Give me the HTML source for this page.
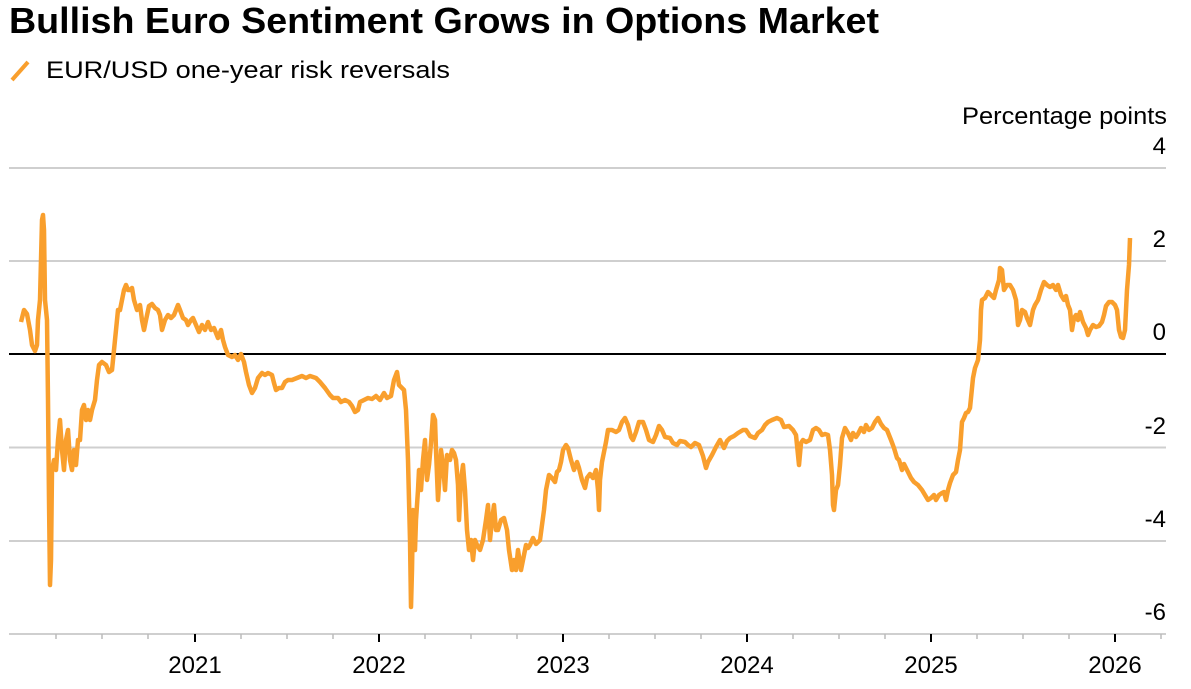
<!DOCTYPE html>
<html><head><meta charset="utf-8"><style>
body{margin:0;background:#fff;width:1191px;height:684px;overflow:hidden;font-family:"Liberation Sans",Arial,sans-serif}
</style></head><body>
<svg width="1191" height="684" xmlns="http://www.w3.org/2000/svg" font-family="Liberation Sans, Arial, sans-serif">
<text x="9" y="33" font-size="36" font-weight="bold" fill="#000" textLength="870" lengthAdjust="spacingAndGlyphs">Bullish Euro Sentiment Grows in Options Market</text>
<line x1="12" y1="80" x2="28" y2="62" stroke="#f99f2d" stroke-width="4"/>
<text x="46" y="78" font-size="24" fill="#000" textLength="404" lengthAdjust="spacingAndGlyphs">EUR/USD one-year risk reversals</text>
<text x="1167" y="124" font-size="24" text-anchor="end" textLength="205" lengthAdjust="spacingAndGlyphs">Percentage points</text>
<g stroke="#cfcfcf" stroke-width="2">
<line x1="9" y1="168" x2="1166" y2="168"/><line x1="9" y1="261" x2="1166" y2="261"/>
<line x1="9" y1="447.5" x2="1166" y2="447.5"/><line x1="9" y1="541" x2="1166" y2="541"/>
<line x1="9" y1="634" x2="1166" y2="634"/>
</g>
<line x1="9" y1="354" x2="1166" y2="354" stroke="#000" stroke-width="2"/>
<g font-size="24" text-anchor="end" fill="#000">
<text x="1166" y="154">4</text><text x="1166" y="247">2</text><text x="1166" y="340">0</text>
<text x="1166" y="434">-2</text><text x="1166" y="527">-4</text><text x="1166" y="620">-6</text>
</g>
<g stroke="#bbb" stroke-width="1.5">
<line x1="56" y1="634" x2="56" y2="639"/><line x1="102" y1="634" x2="102" y2="639"/><line x1="148" y1="634" x2="148" y2="639"/>
<line x1="241" y1="634" x2="241" y2="639"/><line x1="287" y1="634" x2="287" y2="639"/><line x1="333" y1="634" x2="333" y2="639"/>
<line x1="425" y1="634" x2="425" y2="639"/><line x1="471" y1="634" x2="471" y2="639"/><line x1="517" y1="634" x2="517" y2="639"/>
<line x1="609" y1="634" x2="609" y2="639"/><line x1="655" y1="634" x2="655" y2="639"/><line x1="701" y1="634" x2="701" y2="639"/>
<line x1="793" y1="634" x2="793" y2="639"/><line x1="839" y1="634" x2="839" y2="639"/><line x1="885" y1="634" x2="885" y2="639"/>
<line x1="977" y1="634" x2="977" y2="639"/><line x1="1023" y1="634" x2="1023" y2="639"/><line x1="1069" y1="634" x2="1069" y2="639"/>
<line x1="1161" y1="634" x2="1161" y2="639"/>
</g>
<g stroke="#000" stroke-width="2">
<line x1="195" y1="634" x2="195" y2="642"/><line x1="379" y1="634" x2="379" y2="642"/><line x1="563" y1="634" x2="563" y2="642"/>
<line x1="747" y1="634" x2="747" y2="642"/><line x1="931" y1="634" x2="931" y2="642"/><line x1="1115" y1="634" x2="1115" y2="642"/>
</g>
<g font-size="24" text-anchor="middle">
<text x="195" y="673">2021</text><text x="379" y="673">2022</text><text x="563" y="673">2023</text>
<text x="747" y="673">2024</text><text x="931" y="673">2025</text><text x="1115" y="673">2026</text>
</g>
<polyline fill="none" stroke="#f99f2d" stroke-width="4.5" stroke-linejoin="round" points="21,322 24,310 27,314 30,330 32,345 35,351 37,345 38,320 40,300 42,220 43,215 44,230 45,300 47,320 48,400 49,500 50,585 51,560 52,470 54,460 56,470 58,440 60,420 62,450 64,470 66,440 68,430 70,460 72,470 74,450 76,465 78,440 80,440 82,410 84,405 86,420 88,410 90,420 92,410 95,400 97,380 99,365 102,362 106,365 109,372 112,370 115,340 118,310 120,310 122,300 124,290 126,285 128,290 130,290 132,288 134,300 137,310 140,305 142,320 144,330 146,320 149,306 152,304 155,308 158,310 160,315 162,330 165,320 168,315 171,318 174,315 178,305 180,310 183,318 186,320 188,325 191,320 193,318 196,325 199,332 202,325 205,330 208,322 211,330 214,328 218,338 221,330 223,340 225,347 228,355 232,357 235,355 238,360 241,354 244,362 246,372 249,385 252,393 255,388 258,378 262,373 265,375 268,373 272,375 274,383 276,390 279,388 282,388 285,382 288,380 292,380 297,378 302,376 306,378 310,376 316,378 320,382 325,388 330,395 333,398 338,398 341,402 345,400 349,402 352,406 355,412 358,410 360,402 364,400 368,398 372,399 376,396 380,400 384,393 387,398 391,396 394,380 397,372 399,385 404,390 406,410 408,460 410,540 411,607 412,570 413,510 415,550 416,520 418,490 419,470 421,490 423,460 425,440 427,480 429,465 431,443 433,415 435,420 436,450 438,500 440,470 441,450 443,465 445,490 447,455 450,460 452,450 454,453 456,460 458,485 459,520 461,480 463,465 465,490 467,530 469,550 471,540 473,560 475,540 477,545 480,550 483,540 486,520 488,505 490,540 492,520 494,505 496,530 498,530 501,520 504,518 507,530 509,550 512,570 514,560 516,570 518,550 521,570 523,560 526,545 528,548 530,545 533,538 536,544 540,540 542,525 544,510 546,490 549,475 552,478 555,482 557,472 559,470 561,462 563,450 566,445 568,448 571,460 574,470 577,462 579,468 582,480 585,488 587,478 590,474 593,478 596,470 598,490 599,510 600,480 602,462 604,452 606,442 608,430 612,430 616,432 619,430 622,422 625,418 628,425 631,437 633,440 636,432 639,422 643,422 646,430 649,440 653,442 656,435 659,426 662,430 665,437 670,438 673,443 677,445 680,441 685,442 688,445 691,447 695,443 699,445 703,456 706,468 708,462 712,455 716,447 720,440 724,448 727,441 730,438 734,436 738,433 743,430 746,430 750,436 755,438 758,433 762,430 765,425 768,422 772,420 777,418 781,420 784,427 789,426 793,430 796,435 799,465 801,443 803,440 806,442 810,440 813,430 816,428 819,430 822,435 825,434 828,435 830,450 832,475 833,505 834,510 836,490 838,485 840,465 842,438 845,428 848,433 851,440 853,433 856,437 858,434 861,428 864,432 866,425 869,430 872,428 875,422 878,418 881,424 884,428 887,430 891,440 894,448 897,458 899,460 902,470 904,464 908,472 911,478 914,482 918,485 922,490 925,495 928,500 931,498 934,495 936,500 939,495 942,493 944,492 946,500 948,490 950,483 953,475 956,472 958,460 960,450 962,422 964,418 966,413 968,412 970,408 973,378 975,368 978,360 980,340 981,310 982,300 985,298 988,292 991,295 994,298 996,290 999,280 1000,268 1002,270 1004,290 1007,285 1010,285 1013,290 1016,300 1018,325 1020,320 1022,310 1025,312 1027,318 1030,325 1033,310 1035,305 1038,300 1041,290 1044,282 1047,285 1050,287 1053,285 1056,290 1058,285 1061,295 1064,300 1066,296 1068,305 1070,310 1072,330 1074,318 1076,315 1078,320 1080,312 1083,322 1086,328 1088,335 1090,330 1093,325 1096,327 1099,326 1102,322 1104,315 1106,306 1109,302 1112,302 1115,305 1117,310 1119,330 1121,337 1123,338 1125,330 1127,290 1129,265 1130,238"/>
</svg>
</body></html>
